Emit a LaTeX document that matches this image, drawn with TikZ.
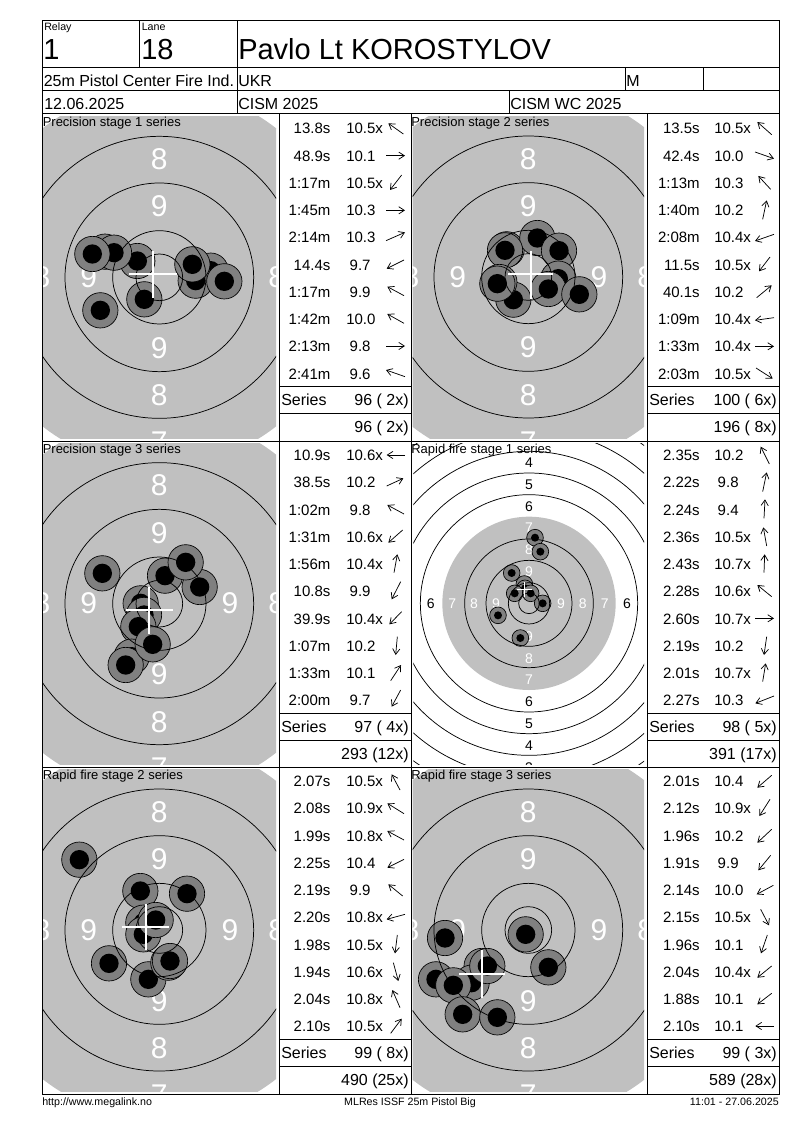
\documentclass[tikz,border=0pt]{standalone}
\usepackage{fontspec}
\setmainfont{Liberation Sans}
\usetikzlibrary{arrows.meta}
\definecolor{r192g192b192}{rgb}{0.752941,0.752941,0.752941}
\definecolor{r128g128b128}{rgb}{0.501961,0.501961,0.501961}
\tikzset{
  frameline/.style={line width=0.75pt},
  ringline/.style={line width=0.55pt},
  shotring/.style={fill=r128g128b128,draw=black,line width=0.5pt},
  crossline/.style={white,line width=1.5pt},
  hitarrow/.style={line width=0.55pt,-{Straight Barb[length=4.2pt,width=5.4pt]}},
  stat/.style={inner sep=0pt,font=\fontsize{11.25}{11.25}\selectfont},
  sumtext/.style={inner sep=0pt,font=\fontsize{12}{12}\selectfont},
  head/.style={inner sep=0pt,anchor=base west,font=\fontsize{12}{12}\selectfont},
  tiny/.style={inner sep=0pt,anchor=base west,font=\fontsize{8}{8}\selectfont},
  large/.style={inner sep=0pt,anchor=base west,font=\fontsize{21.75}{21.75}\selectfont},
  caption/.style={inner sep=0pt,anchor=base west,font=\fontsize{9.75}{9.75}\selectfont},
  footer/.style={inner sep=0pt,font=\fontsize{8}{8}\selectfont},
  bignum/.style={white,inner sep=0pt,font=\fontsize{22.5}{22.5}\selectfont},
  smallnum/.style={inner sep=0pt,font=\fontsize{10.5}{10.5}\selectfont},
}
% 9.x scores stand a little to the right
\newcommand{\nn}{\hspace{2.6pt}}
% Precision target: centre x, centre y, half width, shots
\newcommand{\bigtarget}[4]{%
  \begin{scope}
    \clip (#1-#3,#2-482) rectangle (#1+#3,#2+483);
    \fill[r192g192b192] (#1,#2) circle (568);
    \foreach \lx/\ly/\lab in {0/-354/8,0/-212/9,0/212/9,0/354/8,0/495/7,-212/0/9,212/0/9,-352/0/8,352/0/8}
      \node[bignum] at (#1+\lx,#2+\ly) {\lab};
    \foreach \sx/\sy in {#4} {
      \draw[shotring] (\sx,\sy) circle (53);
      \fill (\sx,\sy) circle (29);
    }
    \foreach \r in {70,140,283,423}
      \draw[ringline] (#1,#2) circle (\r);
  \end{scope}}
% Rows of one series: prefix, then time/score/arrow tail/arrow head
\newcommand{\seriesrows}[1]{%
  \foreach \tm/\sc/\ax/\ay/\bx/\by [count=\i from 0] in {#1} {
    \node[stat,anchor=base east] (\p t\i) at (\timex,\rowtop+81.7*\i) {\tm};
    \node[stat,anchor=base west] (\p s\i) at (\scorex,\rowtop+81.7*\i) {\sc};
    \draw[hitarrow] (\ax,\ay) -- (\bx,\by);
  }}
\begin{document}
\begin{tikzpicture}[x=0.75pt,y=-0.75pt]
\useasboundingbox (0,0) rectangle (800,1130);

% Panel 1
\begin{scope}[shift={(40,110)},x=0.25pt,y=-0.25pt]
  \bigtarget{358}{502}{350}{195/425,292/453,222/428,157/432,512/482,467/512,457/463,553/514,313/568,181/601}
  \draw[crossline] (268,492) -- (410,492);
  \draw[crossline] (338,424) -- (338,564);
  \def\p{a}\def\timex{872}\def\scorex{918}\def\rowtop{72}
  \seriesrows{13.8s/10.5x/1090/72/1045/40,48.9s/10.1/1038/137/1095/137,1:17m/10.5x/1085/195/1050/240,1:45m/10.3/1038/301/1095/301,2:14m/10.3/1038/392/1095/367,14.4s/\nn 9.7/1092/450/1040/476,1:17m/\nn 9.9/1092/557/1042/530,1:42m/10.0/1092/640/1042/612,2:13m/\nn 9.8/1038/708/1095/708,2:41m/\nn 9.6/1095/800/1038/780}
\end{scope}

% Panel 2
\begin{scope}[shift={(410,112)},x=0.25pt,y=-0.25pt]
  \bigtarget{355}{495}{347}{290/412,382/378,447/416,285/415,445/500,310/563,268/510,262/515,415/531,508/547}
  \draw[crossline] (295,485) -- (430,485);
  \draw[crossline] (362,418) -- (362,560);
  \def\p{b}\def\timex{870}\def\scorex{912}\def\rowtop{66}
  \seriesrows{13.5s/10.5x/1085/68/1042/30,42.4s/10.0/1035/120/1092/140,1:13m/10.3/1082/232/1045/192,1:40m/10.2/1058/322/1070/265,2:08m/10.4x/1092/367/1035/387,11.5s/10.5x/1080/435/1047/478,40.1s/10.2/1040/557/1085/520,1:09m/10.4x/1092/617/1035/625,1:33m/10.4x/1035/703/1092/703,2:03m/10.5x/1038/768/1088/800}
\end{scope}

% Panel 3
\begin{scope}[shift={(40,440)},x=0.25pt,y=-0.25pt]
  \bigtarget{358}{491}{350}{187/400,479/441,375/407,437/367,302/490,312/525,295/560,275/650,257/675,338/613}
  \draw[crossline] (258,510) -- (398,510);
  \draw[crossline] (328,440) -- (328,582);
  \def\p{c}\def\timex{872}\def\scorex{918}\def\rowtop{62}
  \seriesrows{10.9s/10.6x/1095/45/1040/45,38.5s/10.2/1040/138/1090/115,1:02m/\nn 9.8/1092/222/1042/195,1:31m/10.6x/1088/270/1045/308,1:56m/10.4x/1062/398/1072/343,10.8s/\nn 9.9/1082/425/1055/478,39.9s/10.4x/1085/515/1048/553,1:07m/10.2/1072/590/1067/645,1:33m/10.1/1052/722/1083/675,2:00m/\nn 9.7/1082/750/1055/800}
\end{scope}

% Panel 4, the rapid fire target
\begin{scope}[shift={(410,440)},x=0.25pt,y=-0.25pt]
  \begin{scope}
    \clip (10,10) rectangle (702,972);
    \fill[r192g192b192] (357,490) circle (260);
    \foreach \ly/\lab in {-423/4,-357/5,-290/6,295/6,360/5,426/4,492/3}
      \node[smallnum] at (357,490+\ly) {\lab};
    \foreach \lx/\lab in {-295/6,294/6}
      \node[smallnum] at (357+\lx,492) {\lab};
    \foreach \ly/\lab in {-228/7,-160/8,-95/9,100/9,165/8,230/7}
      \node[smallnum,white] at (357,490+\ly) {\lab};
    \foreach \lx/\lab in {-230/7,-165/8,-99/9,96/9,161/8,227/7}
      \node[smallnum,white] at (357+\lx,492) {\lab};
    \foreach \sx/\sy in {375/293,391/335,305/399,343/432,345/445,314/460,362/460,398/490,264/526,331/594} {
      \draw[shotring] (\sx,\sy) circle (25);
      \fill (\sx,\sy) circle (12);
    }
    \foreach \r in {31,62,129,193,326,391,456,521,586}
      \draw[ringline] (357,490) circle (\r);
  \end{scope}
  \draw[white,line width=0.75pt] (322,449) -- (366,449);
  \draw[white,line width=0.75pt] (344,426) -- (344,472);
  \def\p{d}\def\timex{870}\def\scorex{912}\def\rowtop{62}
  \seriesrows{2.35s/10.2/1078/72/1052/20,2.22s/\nn 9.8/1058/155/1070/97,2.24s/\nn 9.4/1062/235/1065/178,2.36s/10.5x/1070/318/1060/262,2.43s/10.7x/1062/398/1064/343,2.28s/10.6x/1085/470/1042/435,2.60s/10.7x/1035/535/1092/535,2.19s/10.2/1070/590/1062/645,2.01s/10.7x/1058/725/1067/670,2.27s/10.3/1092/768/1036/790}
\end{scope}

% Panel 5
\begin{scope}[shift={(40,766)},x=0.25pt,y=-0.25pt]
  \bigtarget{358}{492}{350}{118/281,301/375,441/383,207/592,325/640,385/590,390/585,310/470,310/505,347/462}
  \draw[crossline] (247,482) -- (387,482);
  \draw[crossline] (317,413) -- (317,552);
  \def\p{e}\def\timex{872}\def\scorex{918}\def\rowtop{62}
  \seriesrows{2.07s/10.5x/1080/72/1055/25,2.08s/10.9x/1092/143/1042/112,1.99s/10.8x/1092/222/1042/195,2.25s/10.4/1092/280/1042/305,2.19s/\nn 9.9/1088/390/1045/355,2.20s/10.8x/1095/445/1040/460,1.98s/10.5x/1072/507/1065/562,1.94s/10.6x/1060/590/1075/645,2.04s/10.8x/1080/725/1057/672,2.10s/10.5x/1052/802/1085/758}
\end{scope}

% Panel 6
\begin{scope}[shift={(410,766)},x=0.25pt,y=-0.25pt]
  \bigtarget{355}{492}{347}{105/516,347/505,415/604,215/600,185/650,232/600,78/640,130/658,158/745,262/754}
  \draw[crossline] (148,623) -- (285,623);
  \draw[crossline] (215,553) -- (215,695);
  \def\p{f}\def\timex{870}\def\scorex{912}\def\rowtop{62}
  \seriesrows{2.01s/10.4/1085/28/1042/65,2.12s/10.9x/1080/100/1048/150,1.96s/10.2/1085/190/1042/230,1.91s/\nn 9.9/1082/268/1045/313,2.14s/10.0/1090/358/1040/385,2.15s/10.5x/1052/430/1077/478,1.96s/10.1/1072/507/1053/562,2.04s/10.4x/1085/600/1042/635,1.88s/10.1/1085/682/1042/715,2.10s/10.1/1092/780/1036/780}
\end{scope}

% Panel captions
\node[caption] (capa) at (42.5,126.7) {Precision stage 1 series};
\node[caption] (capb) at (411,126.7) {Precision stage 2 series};
\node[caption] (capc) at (42.5,453.3) {Precision stage 3 series};
\node[caption] (capd) at (411,453.3) {Rapid fire stage 1 series};
\node[caption] (cape) at (42.5,779.5) {Rapid fire stage 2 series};
\node[caption] (capf) at (411,779.5) {Rapid fire stage 3 series};

% Series and total lines
\foreach \x/\top/\ser/\tot [count=\i] in {281/114/96 ( 2x)/96 ( 2x),649/114/100 ( 6x)/196 ( 8x),281/441/97 ( 4x)/293 (12x),649/441/98 ( 5x)/391 (17x),281/767/99 ( 8x)/490 (25x),649/767/99 ( 3x)/589 (28x)} {
  \node[sumtext,anchor=base west] (ser\i) at (\x,\top+291) {Series};
  \node[sumtext,anchor=base east] (val\i) at (\x+128,\top+291) {\ser};
  \node[sumtext,anchor=base east] (tot\i) at (\x+128,\top+318.5) {\tot};
  \draw[frameline] (\x-2,\top+272) -- (\x+131,\top+272);
  \draw[frameline] (\x-2,\top+299.5) -- (\x+131,\top+299.5);
}

% Header
\node[tiny] (relay) at (44,31) {Relay};
\node[tiny] (lane) at (141.5,31) {Lane};
\node[large] (relaynum) at (43,60) {1};
\node[large] (lanenum) at (141,60) {18};
\node[large] (name) at (238,60) {Pavlo Lt KOROSTYLOV};
\node[head] (event) at (43.5,86.7) {25m Pistol Center Fire Ind.};
\node[head] (nation) at (238,86.7) {UKR};
\node[head] (gender) at (626,86.7) {M};
\node[head] (date) at (44,110) {12.06.2025};
\node[head] (match) at (238,110) {CISM 2025};
\node[head] (cup) at (510,110) {CISM WC 2025};

% Frame
\draw[frameline] (42.5,21) rectangle (779.5,1094);
\foreach \y in {68,91,114,441,767}
  \draw[frameline] (42.5,\y) -- (779.5,\y);
\draw[frameline] (139,21) -- (139,68);
\draw[frameline] (237,21) -- (237,114);
\draw[frameline] (625,68) -- (625,91);
\draw[frameline] (703,68) -- (703,91);
\draw[frameline] (509,91) -- (509,114);
\foreach \x in {279,411,647}
  \draw[frameline] (\x,114) -- (\x,1094);

% Footer
\node[footer,anchor=base west] (site) at (42,1105.5) {http://www.megalink.no};
\node[footer,anchor=base] (prog) at (410,1105.5) {MLRes ISSF 25m Pistol Big};
\node[footer,anchor=base east] (stamp) at (779,1105.5) {11:01 - 27.06.2025};
\end{tikzpicture}
\end{document}
